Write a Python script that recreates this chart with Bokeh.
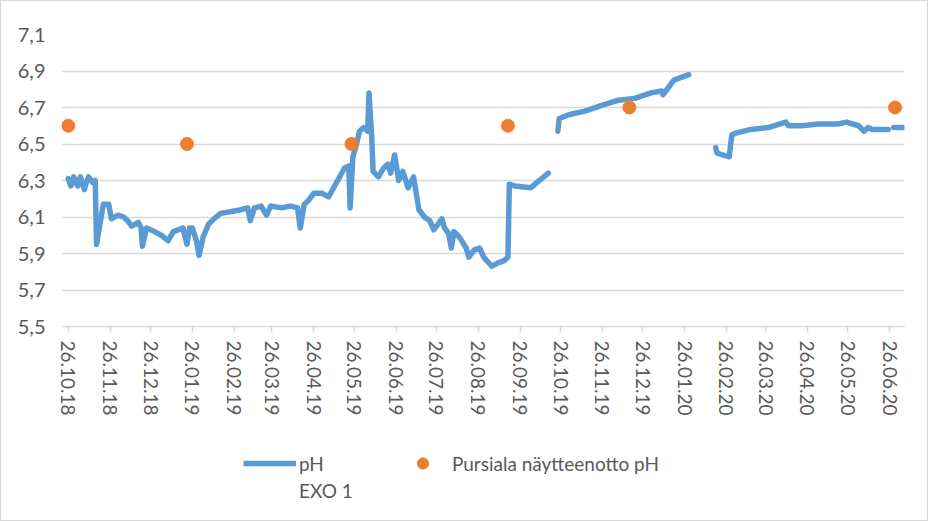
import numpy as np
import pandas as pd
from bokeh.plotting import figure
from bokeh.layouts import column
from bokeh.models import (ColumnDataSource, Range1d, FixedTicker, DatetimeTickFormatter,
                          CustomJSTickFormatter, Legend, LegendItem)
from bokeh.embed import file_html
from bokeh.resources import INLINE

# ---- data -------------------------------------------------------------
start_date = "2018-10-26"
# pH EXO 1 : measurement day (days since start_date) and value; None = gap in logging
ph_day = [0, 2, 4, 7, 9, 12, 13, 15, 18, 20,
          21, 23, 26, 30, 32, 37, 41, 44, 47, 52,
          54, 55, 58, 64, 69, 74, 78, 85, 88, 90,
          92, 95, 97, 100, 104, 108, 113, 121, 128, 133,
          135, 138, 143, 147, 150, 158, 165, 170, 172, 175,
          178, 182, 188, 193, 205, 208, 209, 211, 213, 216,
          219, 222, 223, 225, 226, 230, 234, 237, 239, 242,
          245, 248, 252, 256, 258, 260, 264, 268, 271, 277,
          279, 282, 284, 286, 290, 295, 297, 301, 305, 308,
          314, 319, 323, 326, 327, 331, 343, 346, 351, 356,
          360,
          363, 364, 371, 383, 395, 408, 420, 432, 440, 441, 444, 449, 460,
          470,
          480, 481, 490, 492, 495, 506, 519, 532, 534, 544, 556, 571, 577, 586, 590, 593, 596, 608,
          610,
          612, 620]
ph_value = [6.31, 6.27, 6.32, 6.27, 6.32, 6.25, 6.28, 6.32, 6.29, 6.30,
            5.95, 6.04, 6.17, 6.17, 6.09, 6.11, 6.10, 6.08, 6.05, 6.07,
            6.04, 5.94, 6.04, 6.02, 6.00, 5.97, 6.02, 6.04, 5.95, 6.04,
            6.04, 5.97, 5.89, 5.99, 6.06, 6.09, 6.12, 6.13, 6.14, 6.15,
            6.08, 6.15, 6.16, 6.11, 6.16, 6.15, 6.16, 6.15, 6.04, 6.17,
            6.19, 6.23, 6.23, 6.21, 6.37, 6.38, 6.15, 6.43, 6.48, 6.57,
            6.59, 6.57, 6.78, 6.54, 6.35, 6.32, 6.37, 6.39, 6.34, 6.44,
            6.30, 6.35, 6.26, 6.32, 6.23, 6.14, 6.10, 6.08, 6.03, 6.09,
            6.04, 6.01, 5.93, 6.02, 5.99, 5.93, 5.88, 5.92, 5.93, 5.88,
            5.83, 5.85, 5.86, 5.88, 6.28, 6.27, 6.26, 6.28, 6.31, 6.34,
            None,
            6.57, 6.64, 6.66, 6.68, 6.71, 6.74, 6.75, 6.78, 6.79, 6.77, 6.80, 6.85, 6.88,
            None,
            6.48, 6.45, 6.43, 6.55, 6.56, 6.58, 6.59, 6.62, 6.60, 6.60, 6.61, 6.61, 6.62, 6.60, 6.57, 6.59, 6.58, 6.58,
            None,
            6.59, 6.59]

# Pursiala sampling pH
sample_date = ["2018-10-26", "2019-01-22", "2019-05-24", "2019-09-17", "2019-12-16", "2020-06-30"]
sample_ph = [6.6, 6.5, 6.5, 6.6, 6.7, 6.7]

y_ticks = [5.5, 5.7, 5.9, 6.1, 6.3, 6.5, 6.7, 6.9, 7.1]
x_tick_first = "2018-10-26"
x_tick_last = "2020-06-26"

line_label = "pH"
line_label_2 = "EXO 1"
dot_label = "Pursiala näytteenotto pH"

# ---- style ------------------------------------------------------------
FONT = "Lato"
TXT = "#595959"
GRID = "#D9D9D9"
BLUE = "#5B9BD5"
ORANGE = "#ED7D31"

line_x = pd.Timestamp(start_date) + pd.to_timedelta(ph_day, unit="D")
line_y = np.array([np.nan if v is None else v for v in ph_value], dtype=float)
line_src = ColumnDataSource(dict(x=line_x, y=line_y))
dot_src = ColumnDataSource(dict(x=pd.to_datetime(sample_date), y=sample_ph))

tick_dates = pd.date_range(x_tick_first, x_tick_last, freq=pd.DateOffset(months=1))
tick_ms = [float(t.value // 10**6) for t in tick_dates]

# ---- main chart -------------------------------------------------------
p = figure(width=926, height=425, output_backend="svg", toolbar_location=None,
           x_axis_type="datetime",
           x_range=Range1d(pd.Timestamp("2018-10-21"), pd.Timestamp("2020-07-07")),
           y_range=Range1d(5.5, 7.1),
           min_border_left=60, min_border_right=23, min_border_top=33, min_border_bottom=100)
p.outline_line_color = None
p.background_fill_color = "white"
p.border_fill_color = "white"

p.yaxis.ticker = FixedTicker(ticks=y_ticks)
p.yaxis.formatter = CustomJSTickFormatter(code="return tick.toFixed(1).replace('.', ',');")
p.yaxis.axis_line_color = None
p.yaxis.major_tick_line_color = None
p.yaxis.minor_tick_line_color = None
p.yaxis.major_label_standoff = 10
p.yaxis.major_label_text_font = FONT
p.yaxis.major_label_text_font_size = "20px"
p.yaxis.major_label_text_color = TXT

p.xaxis.ticker = FixedTicker(ticks=tick_ms)
fmt = "%d.%m.%y"
p.xaxis.formatter = DatetimeTickFormatter(milliseconds=fmt, seconds=fmt, minsec=fmt, minutes=fmt,
                                          hourmin=fmt, hours=fmt, days=fmt, months=fmt, years=fmt)
p.xaxis.major_label_orientation = "vertical"
p.xaxis.axis_line_color = GRID
p.xaxis.axis_line_width = 1.5
p.xaxis.major_tick_line_color = GRID
p.xaxis.major_tick_line_width = 1.5
p.xaxis.major_tick_in = 0
p.xaxis.major_tick_out = 6
p.xaxis.minor_tick_line_color = None
p.xaxis.major_label_standoff = 8
p.xaxis.major_label_text_font = FONT
p.xaxis.major_label_text_font_size = "19px"
p.xaxis.major_label_text_color = TXT

p.xgrid.grid_line_color = None
p.ygrid.ticker = FixedTicker(ticks=y_ticks)
p.ygrid.grid_line_color = GRID
p.ygrid.grid_line_width = 1.5

p.line("x", "y", source=line_src, line_color=BLUE, line_width=5.5,
       line_join="round", line_cap="round")
p.scatter("x", "y", source=dot_src, size=13, fill_color=ORANGE,
          line_color=ORANGE, marker="circle")

# ---- legend strip -----------------------------------------------------
lg = figure(width=926, height=94, output_backend="svg", toolbar_location=None,
            x_axis_type=None, y_axis_type=None, x_range=Range1d(0, 1), y_range=Range1d(0, 1),
            min_border=0)
lg.outline_line_color = None
lg.background_fill_color = "white"
lg.border_fill_color = "white"
nan_src = ColumnDataSource(dict(x=[np.nan], y=[np.nan]))
lr_line = lg.line("x", "y", source=nan_src, line_color=BLUE, line_width=5.5)
lr_dot = lg.scatter("x", "y", source=nan_src, size=13, fill_color=ORANGE, line_color=ORANGE,
                    marker="circle")
lr_blank = lg.line("x", "y", source=nan_src, line_alpha=0)

leg1 = Legend(items=[LegendItem(label=line_label, renderers=[lr_line]),
                     LegendItem(label=dot_label, renderers=[lr_dot])],
              orientation="horizontal", location=(182, 43),
              border_line_color=None, background_fill_alpha=0,
              glyph_width=53, glyph_height=28, label_standoff=3, spacing=72,
              label_text_font=FONT, label_text_font_size="19px", label_text_color=TXT,
              label_height=23, padding=0, margin=0)
lg.add_layout(leg1, "center")
leg2 = Legend(items=[LegendItem(label=line_label_2, renderers=[lr_blank])],
              orientation="horizontal", location=(182, 18),
              border_line_color=None, background_fill_alpha=0,
              glyph_width=53, glyph_height=23, label_standoff=3,
              label_text_font=FONT, label_text_font_size="19px", label_text_color=TXT,
              label_height=23, padding=0, margin=0)
lg.add_layout(leg2, "center")

layout = column(p, lg, spacing=0, styles={"border": "1px solid #D9D9D9"})

open("out.html", "w").write(file_html(layout, INLINE))
